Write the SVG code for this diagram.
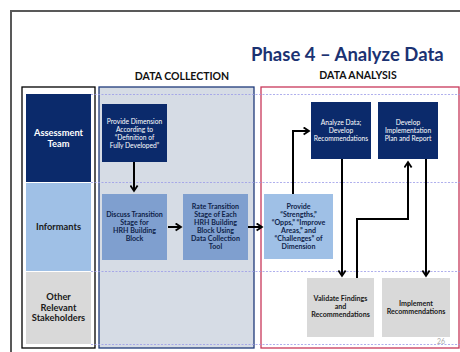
<svg xmlns="http://www.w3.org/2000/svg" width="460" height="352" viewBox="0 0 460 352">
<defs>
<marker id="ah" viewBox="0 0 10 10" refX="8" refY="5" markerWidth="4.5" markerHeight="4.5" orient="auto" markerUnits="strokeWidth">
<polyline points="2,1 8,5 2,9" fill="none" stroke="#000" stroke-width="2"/>
</marker>
<style>
text{font-family:Lato,"Liberation Sans",sans-serif;text-anchor:middle}
.t{font-weight:bold;fill:#1b3272;font-size:18.5px;text-anchor:start}
.h{font-weight:bold;fill:#111;font-size:10.5px}
.lw{font-weight:bold;fill:#fff;font-size:9.3px}
.lb{font-weight:bold;fill:#1a1a1a;font-size:9.3px}
.sw{fill:#fff;font-size:6.7px}
.nb{font-weight:bold;fill:#0f1f4a;font-size:7.1px}
.ng{font-weight:bold;fill:#1a1a1a;font-size:7.1px}
.dk{fill:#0b2a6b}
.md{fill:#7f9fcf}
.lt{fill:#9fc0e6}
.gr{fill:#d9d9d9}
.dash{stroke:#9a9ae8;stroke-width:0.8;stroke-dasharray:2,1.5;fill:none}
.c{fill:none;stroke:#000;stroke-width:2;marker-end:url(#ah)}
</style>
</defs>
<rect width="460" height="352" fill="#fff"/>
<path d="M11,352 V11 H460" fill="none" stroke="#595959" stroke-width="2"/>
<text class="t" x="251" y="61">Phase 4 – Analyze Data</text>
<text class="h" x="182" y="80">DATA COLLECTION</text>
<text class="h" x="358" y="79">DATA ANALYSIS</text>

<g id="lanes">
<rect x="22" y="87" width="73" height="261" fill="#fff" stroke="#000" stroke-width="1.3"/>
<rect class="dk" x="26" y="94" width="65" height="88"/>
<rect class="lt" x="26" y="183" width="65" height="88"/>
<rect class="gr" x="26" y="272" width="65" height="72"/>
<text class="lw" x="58.5" y="136">Assessment</text>
<text class="lw" x="58.5" y="147">Team</text>
<text class="lb" x="58.5" y="230">Informants</text>
<text class="lb" x="58.5" y="300">Other</text>
<text class="lb" x="58.5" y="311">Relevant</text>
<text class="lb" x="58.5" y="321">Stakeholders</text>
</g>

<g id="collection">
<rect x="99" y="87" width="155" height="261" fill="#d6dce5" stroke="#1f3a7a" stroke-width="1.3"/>
</g>
<g id="analysis">
<rect x="261" y="87" width="198" height="261" fill="#fff" stroke="#c8385a" stroke-width="1.3"/>
</g>

<g id="gridlines">
<line class="dash" x1="91" y1="94.5" x2="460" y2="94.5"/>
<line class="dash" x1="91" y1="182.5" x2="460" y2="182.5"/>
<line class="dash" x1="91" y1="271.5" x2="460" y2="271.5"/>
<line class="dash" x1="91" y1="344.5" x2="460" y2="344.5"/>
</g>

<g id="n1">
<rect class="dk" x="102" y="104" width="65" height="58"/>
<text class="sw" x="134.5" y="124">Provide Dimension</text>
<text class="sw" x="134.5" y="132">According to</text>
<text class="sw" x="134.5" y="140">“Definition of</text>
<text class="sw" x="134.5" y="148">Fully Developed”</text>
</g>
<g id="n2">
<rect class="md" x="102" y="194" width="65" height="66"/>
<text class="nb" x="134.5" y="217">Discuss Transition</text>
<text class="nb" x="134.5" y="225">Stage for</text>
<text class="nb" x="134.5" y="233">HRH Building</text>
<text class="nb" x="134.5" y="241">Block</text>
</g>
<g id="n3">
<rect class="md" x="183" y="194" width="65" height="66"/>
<text class="nb" x="215.5" y="209">Rate Transition</text>
<text class="nb" x="215.5" y="217">Stage of Each</text>
<text class="nb" x="215.5" y="225">HRH Building</text>
<text class="nb" x="215.5" y="233">Block Using</text>
<text class="nb" x="215.5" y="241">Data Collection</text>
<text class="nb" x="215.5" y="249">Tool</text>
</g>
<g id="n4">
<rect class="lt" x="264" y="194" width="69" height="65"/>
<text class="nb" x="298.5" y="209">Provide</text>
<text class="nb" x="298.5" y="217">“Strengths,”</text>
<text class="nb" x="298.5" y="225">“Opps,” “Improve</text>
<text class="nb" x="298.5" y="233">Areas,” and</text>
<text class="nb" x="298.5" y="241">“Challenges” of</text>
<text class="nb" x="298.5" y="249">Dimension</text>
</g>
<g id="n5">
<rect class="dk" x="311" y="102" width="60" height="57"/>
<text class="sw" x="341" y="125">Analyze Data;</text>
<text class="sw" x="341" y="133">Develop</text>
<text class="sw" x="341" y="141">Recommendations</text>
</g>
<g id="n6">
<rect class="dk" x="378" y="102" width="60" height="57"/>
<text class="sw" x="408" y="125">Develop</text>
<text class="sw" x="408" y="133">Implementation</text>
<text class="sw" x="408" y="141">Plan and Report</text>
</g>
<g id="n7">
<rect class="gr" x="307" y="278" width="67" height="59"/>
<text class="ng" x="340.5" y="301">Validate Findings</text>
<text class="ng" x="340.5" y="309">and</text>
<text class="ng" x="340.5" y="317">Recommendations</text>
</g>
<g id="n8">
<rect class="gr" x="382" y="278" width="68" height="59"/>
<text class="ng" x="416" y="306">Implement</text>
<text class="ng" x="416" y="314">Recommendations</text>
</g>

<g id="connectors">
<path class="c" d="M134,162 V191"/>
<path class="c" d="M168,227 H181"/>
<path class="c" d="M248,227 H262"/>
<path class="c" d="M293,194 V131 H309"/>
<path class="c" d="M342,159 V276"/>
<path class="c" d="M357,278 V219 H408 V162"/>
<path class="c" d="M426,159 V276"/>
</g>
<text x="441" y="344" style="font-size:7px;fill:#aaa">26</text>
</svg>
